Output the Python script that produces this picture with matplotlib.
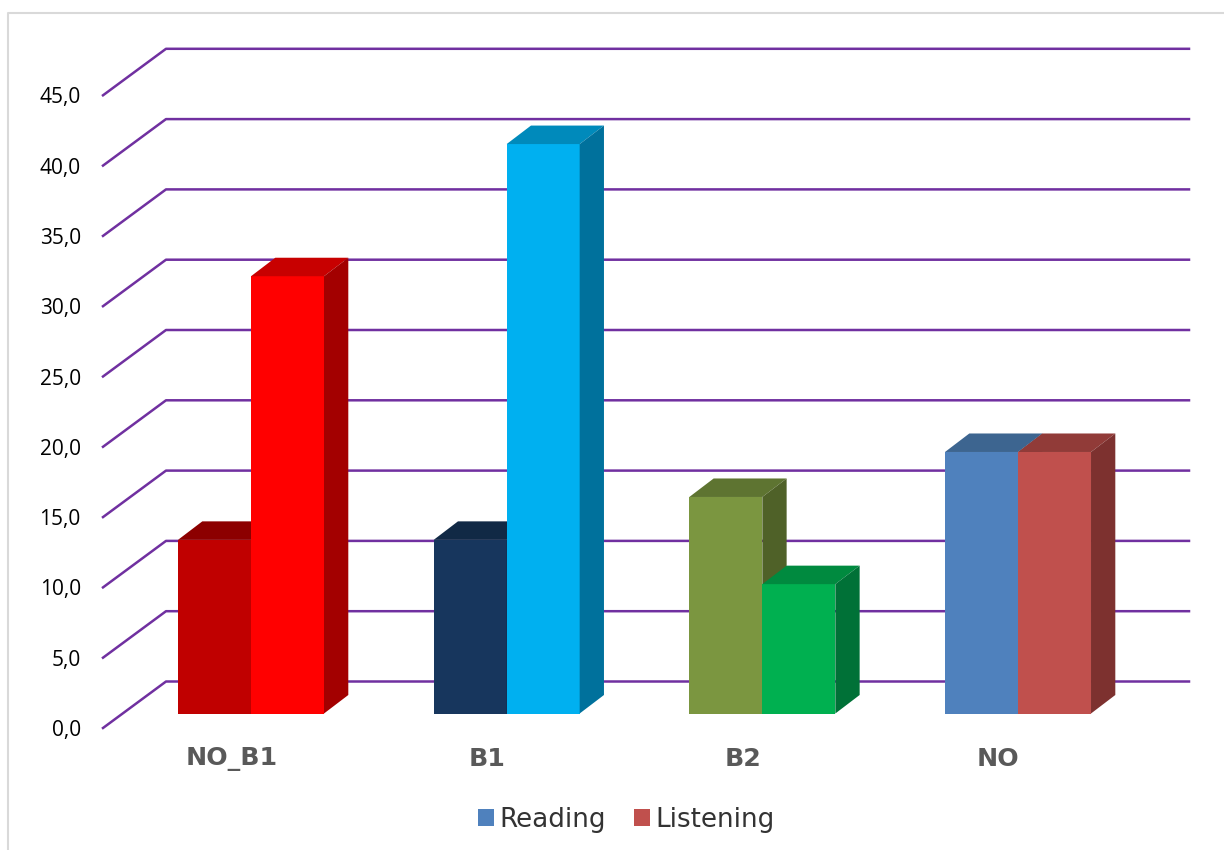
import matplotlib
matplotlib.use("Agg")
import matplotlib.pyplot as plt
from matplotlib.patches import Polygon, Patch
from matplotlib.lines import Line2D

categories = ["NO_B1", "B1", "B2", "NO"]
reading = [12.35, 12.35, 15.4, 18.6]
listening = [31.1, 40.5, 9.2, 18.6]
tick_values = [0, 5, 10, 15, 20, 25, 30, 35, 40, 45]
tick_labels = ["0,0", "5,0", "10,0", "15,0", "20,0", "25,0", "30,0", "35,0", "40,0", "45,0"]

# (front, top, side) shades per category
reading_colors = [("#C00000", "#8C0000", "#8C0000"), ("#17365D", "#112945", "#112945"),
                  ("#7B9640", "#5E7431", "#4F6128"), ("#4F81BD", "#3D6590", "#3D6590")]
listening_colors = [("#FF0000", "#C80000", "#A30000"), ("#00B0F0", "#008ABB", "#00719C"),
                    ("#00B050", "#008A3F", "#007137"), ("#C0504D", "#913B38", "#7D312F")]
legend_colors = ["#4F81BD", "#C0504D"]

W, H = 1224, 850
PX_Y = 14.06       # pixels per value unit
PX_X = 255.67      # pixels per category step
BASE_PX = 713.5    # pixel row of value 0 on the bars' front plane
GROUP0_PX = 251.0  # pixel column of first group's centre
L_PX, R_PX = 103.0, 1189.0
BOT_PX, TOP_PX = 728.0, 40.0

fig = plt.figure(figsize=(W / 100, H / 100), dpi=100, facecolor="white")
ax = fig.add_axes([L_PX / W, 1 - BOT_PX / H, (R_PX - L_PX) / W, (BOT_PX - TOP_PX) / H])
ax.set_xlim((L_PX - GROUP0_PX) / PX_X, (R_PX - GROUP0_PX) / PX_X)
ax.set_ylim((BASE_PX - BOT_PX) / PX_Y, (BASE_PX - TOP_PX) / PX_Y)
ax.patch.set_alpha(0)
for s in ax.spines.values():
    s.set_visible(False)

bar_w = 73.0 / PX_X
dx = 24.3 / PX_X
dy = 18.5 / PX_Y

# gridlines on the side and back walls
wall_x = (166.0 - GROUP0_PX) / PX_X
left_x = (L_PX - GROUP0_PX) / PX_X
right_x = (R_PX - GROUP0_PX) / PX_X
front_off = (BASE_PX - 728.0) / PX_Y
back_off = (BASE_PX - 681.5) / PX_Y
for v in tick_values:
    ax.plot([left_x, wall_x, right_x], [v + front_off, v + back_off, v + back_off],
            color="#7030A0", lw=1.8, solid_joinstyle="round", zorder=1, clip_on=False)


def box(x0, h, cols, z):
    front, top, side = cols
    x1 = x0 + bar_w
    ax.add_patch(Polygon([(x0, 0), (x1, 0), (x1, h), (x0, h)], fc=front, ec="none", zorder=z))
    ax.add_patch(Polygon([(x0, h), (x1, h), (x1 + dx, h + dy), (x0 + dx, h + dy)], fc=top, ec="none", zorder=z))
    ax.add_patch(Polygon([(x1, 0), (x1 + dx, dy), (x1 + dx, h + dy), (x1, h)], fc=side, ec="none", zorder=z))


for i in range(len(categories)):
    box(i - bar_w, reading[i], reading_colors[i], 2)
    box(i, listening[i], listening_colors[i], 3)

# axes ticks sit at the outer end of the side-wall gridlines
ax.set_yticks([v + front_off for v in tick_values], tick_labels)
ax.tick_params(axis="y", length=0, pad=16, labelsize=15, labelcolor="#000000")
for t in ax.get_yticklabels():
    t.set_fontfamily("Open Sans")

ax.set_xticks([i - 19.6 / PX_X for i in range(len(categories))], categories)
ax.tick_params(axis="x", length=0, pad=14, labelsize=18.2, labelcolor="#595959")
for t in ax.get_xticklabels():
    t.set_fontfamily("DejaVu Sans")
    t.set_fontweight("bold")

handles = [Patch(fc=legend_colors[0], ec="none", label="Reading"),
           Patch(fc=legend_colors[1], ec="none", label="Listening")]
fig.legend(handles=handles, loc="center", bbox_to_anchor=(626.5 / W, 1 - 820.0 / H), ncol=2,
           frameon=False, handlelength=0.62, handleheight=0.62,
           handletextpad=0.2, columnspacing=1.08, borderpad=0, borderaxespad=0,
           labelcolor="#333333", prop={"family": "DejaVu Sans", "size": 18.8})

# chart-area frame
fig.add_artist(Line2D([7.5 / W, 7.5 / W, 1], [0, 1 - 12.5 / H, 1 - 12.5 / H],
                      transform=fig.transFigure, color="#D9D9D9", lw=1.5))

fig.savefig("out.png", dpi=100)
